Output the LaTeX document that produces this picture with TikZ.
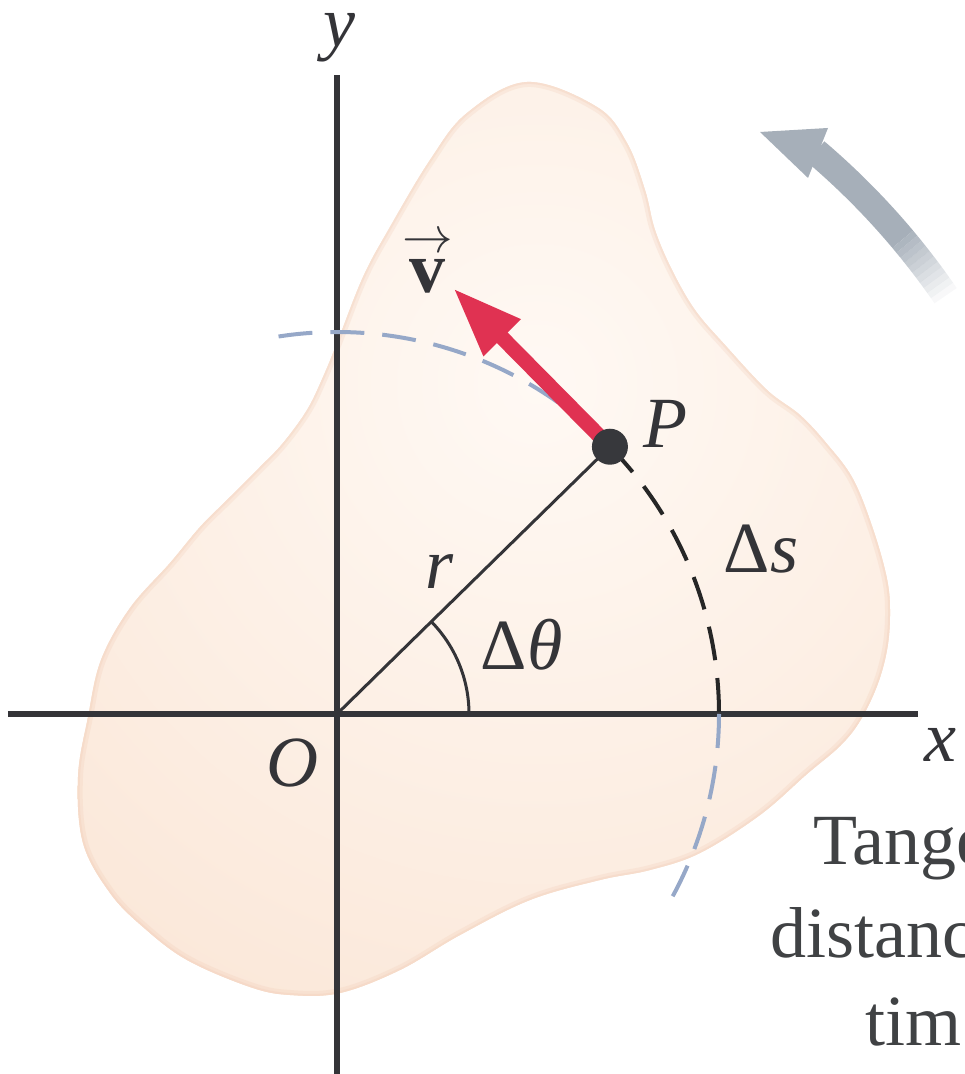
\documentclass[tikz,border=0pt]{standalone}
\usepackage{fontspec}
\setmainfont{Liberation Serif}
\usetikzlibrary{arrows.meta}
\definecolor{axisgray}{RGB}{52,52,56}
\definecolor{dotgray}{RGB}{55,56,60}
\definecolor{dashblue}{RGB}{150,168,200}
\definecolor{velred}{RGB}{224,50,82}
\definecolor{spingray}{RGB}{166,175,185}
\definecolor{blobpeach}{RGB}{249,224,205}
\definecolor{blobpale}{RGB}{255,249,244}
\definecolor{blobedge}{RGB}{242,204,182}
\definecolor{textgray}{RGB}{64,66,68}

\begin{document}
\begin{tikzpicture}[x=0.1mm, y=0.1mm,
  axis/.style={draw=axisgray, line width=0.6mm},
  thinline/.style={draw=axisgray, line width=0.3mm},
  arcdash/.style={line width=0.4mm, dash pattern=on 3.4mm off 1.8mm},
  lbl/.style={text=axisgray, inner sep=0pt, font=\fontsize{20.5}{25}\selectfont},
  caption/.style={text=textgray, inner sep=0pt, anchor=base west, font=\fontsize{20.5}{25}\selectfont},
  pdot/.style={circle, fill=dotgray, inner sep=0pt, minimum size=3.6mm},
  velarrow/.style={draw=velred, line width=1.5mm, -{Triangle[length=7mm, width=4.8mm]}}]

\clip (-337,-360) rectangle (627,714);

% rigid body
\path[save path=\blob] plot[smooth cycle, tension=0.6] coordinates {
  (190,632) (260,607) (290,571) (308,524) (318,484) (335,444) (358,404)
  (388,369) (430,324) (463,299) (490,270) (516,235) (536,185) (550,135)
  (553,100) (550,64) (540,28) (523,-7) (503,-32) (470,-60) (423,-101)
  (363,-139) (313,-156) (263,-166) (193,-186) (123,-221) (63,-256)
  (3,-279) (-47,-281) (-87,-273) (-150,-246) (-194,-213) (-227,-179)
  (-254,-129) (-259,-63) (-249,-3) (-236,54) (-207,106)
  (-167,151) (-137,187) (-110,214) (-77,247) (-54,271) (-30,304)
  (-14,337) (0,371) (26,437) (53,487) (93,554) (130,601)};
\fill[blobpeach, use path=\blob];
\begin{scope}
  \clip[use path=\blob];
  \shade[inner color=blobpale, outer color=blobpeach] (200,330) circle (1000);
  \draw[blobedge, line width=1mm, opacity=0.25, use path=\blob];
  \draw[blobedge, line width=0.4mm, opacity=0.3, use path=\blob];
\end{scope}

% sense of rotation
\fill[spingray] (40:725) arc[start angle=40, end angle=49.6, radius=725]
  -- (49.6:752) arc[start angle=49.6, end angle=40, radius=752] -- cycle;
\foreach \a [evaluate=\a as \op using (\a-34)/6] in {34.5,35,...,39.5}
  \fill[spingray, opacity=\op] (\a:725) arc[start angle=\a, delta angle=0.5, radius=725]
    -- ({\a+0.5}:752) arc[start angle=\a+0.5, delta angle=-0.5, radius=752] -- cycle;
\fill[spingray] (423,582) -- (491,586) -- (471,536) -- cycle;

% axes
\coordinate (O) at (0,0);
\coordinate (xl) at (-329,0);
\coordinate (xr) at (581,0);
\coordinate (yt) at (0,639);
\coordinate (yb) at (0,-360);
\coordinate (P) at (44.4:382);
\coordinate (vtip) at (116,426);
\draw[axis] (xl) -- (xr);
\draw[axis] (yb) -- (yt);

% path of P
\draw[arcdash, draw=dashblue] (98.8:382) arc[start angle=98.8, end angle=44.4, radius=382];
\draw[arcdash, draw=black!85] (P) arc[start angle=44.4, end angle=0, radius=382];
\draw[arcdash, draw=dashblue] (0:382) arc[start angle=0, end angle=-28.5, radius=382];

\draw[thinline] (O) -- (P);
\draw[thinline] (132,0) arc[start angle=0, end angle=44.4, radius=132];

\draw[velarrow] (P) -- (vtip);
\node[pdot] (Pdot) at (P) {};

% labels
\node[lbl] (ylbl) at (2,676) {\itshape y};
\node[lbl] (xlbl) at (603,-31) {\itshape x};
\node[lbl] (olbl) at (-44,-49) {\itshape O};
\node[lbl] (rlbl) at (103,142) {\itshape r};
\node[lbl, anchor=base west] (dthlbl) at (143,44) {Δ\textit{θ}};
\node[lbl, anchor=base west] (dslbl) at (386,141) {Δ\textit{s}};
\node[lbl, anchor=base west] (plbl) at (306,266) {\textit{P}};
\node[lbl] (vlbl) at (91,452) {$\stackrel{\rightarrow}{\hbox{\bfseries v}}$};

\node[caption] (cap1) at (476,-151) {Tange};
\node[caption] (cap2) at (433,-243) {distanc};
\node[caption] (cap3) at (528,-331) {tim};
\end{tikzpicture}
\end{document}
